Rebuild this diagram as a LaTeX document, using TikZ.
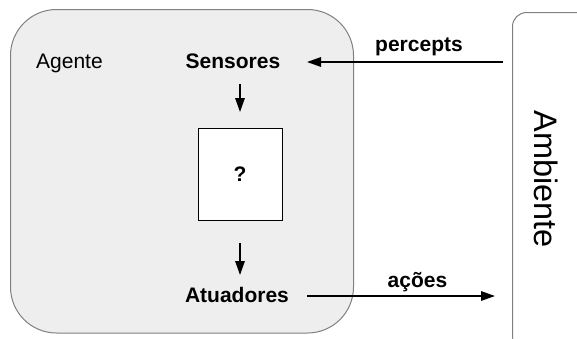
\documentclass[tikz,border=0pt]{standalone}
\usepackage{fontspec}
\setmainfont{Liberation Sans}
\usetikzlibrary{arrows.meta}
\definecolor{agentfill}{HTML}{EEEEEE}
\definecolor{framegray}{HTML}{808080}

\begin{document}
\begin{tikzpicture}[x=1pt,y=-1pt,
  txt/.style={font=\fontsize{21}{24}\selectfont, inner sep=0pt, anchor=base},
  boldtxt/.style={txt, font=\fontsize{21}{24}\selectfont\bfseries},
  flow/.style={line width=1.5pt, -{Triangle[length=14pt,width=9.5pt]}},
]
\useasboundingbox (0,0) rectangle (577,338);

% agent and environment frames
\draw[framegray, line width=1pt, fill=agentfill, rounded corners=46pt]
  (10.5,9.5) rectangle (353.5,333);
\draw[framegray, line width=1pt, rounded corners=14pt]
  (512.5,12.5) rectangle (620,350);

% labels
\node[txt, anchor=base west] (agente) at (36,68) {Agente};
\node[boldtxt] (sensores) at (233,68) {Sensores};
\node[boldtxt] (atuadores) at (237,302) {Atuadores};
\node[boldtxt] (percepts) at (419,51) {percepts};
\node[boldtxt] (acoes) at (417.5,287) {ações};
\node[font=\fontsize{32.5}{36}\selectfont, rotate=-90, inner sep=0pt] (ambiente) at (546,179) {Ambiente};

% the unknown agent program
\node[draw=black, line width=1pt, fill=white, minimum width=84pt, minimum height=92pt,
  inner sep=0pt, font=\fontsize{21}{24}\selectfont\bfseries] (prog) at (240,174) {?};

% connector ends
\coordinate (sdown) at (240,84);
\coordinate (pin) at (240,112);
\coordinate (pout) at (240,243);
\coordinate (aup) at (240,275);
\coordinate (envout) at (503,62);
\coordinate (sin) at (307,62);
\coordinate (actout) at (307,296);
\coordinate (envin) at (495,296);

\draw[flow] (sdown) -- (pin);
\draw[flow] (pout) -- (aup);
\draw[flow] (envout) -- (sin);
\draw[flow] (actout) -- (envin);
\end{tikzpicture}
\end{document}
